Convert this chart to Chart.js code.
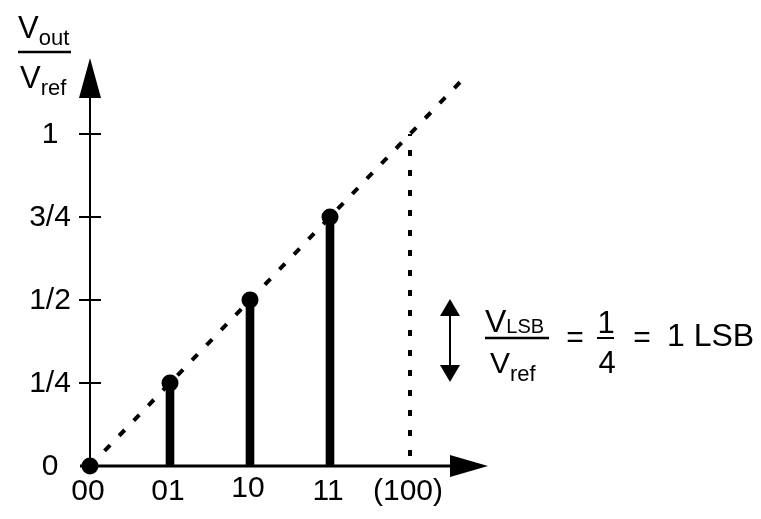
<!DOCTYPE html>
<html lang="en">
<head>
    <meta charset="UTF-8">
    <title>DAC transfer characteristic</title>
    <script src="https://cdn.jsdelivr.net/npm/chart.js"></script>
    <style>
        body { margin: 0; background: #fff; }
        #wrap { width: 761px; height: 519px; position: relative; }
    </style>
</head>
<body>
    <div id="wrap"><canvas id="dac"></canvas></div>

    <script>
        // input codes and what the DAC puts out for them
        const codeLabels = ["00", "01", "10", "11", "(100)"];
        const codeValues = [0, 1, 2, 3, 4];
        const outputLevels = [0, 0.25, 0.5, 0.75];

        // y axis ticks
        const yTickValues = [0, 0.25, 0.5, 0.75, 1];
        const yTickLabels = ["0", "1/4", "1/2", "3/4", "1"];

        // ideal (dotted) line and the full scale marker
        const idealLineX = [0, 4.65];
        const idealLineY = [0, 1.1625];
        const fullScaleX = [4, 4];
        const fullScaleY = [1, 0];

        const FONT = "Liberation Sans, Arial, Helvetica, sans-serif";

        const stems = outputLevels.map((v, i) => ({ x: codeValues[i], y: v }));
        const ideal = idealLineX.map((x, i) => ({ x: x, y: idealLineY[i] }));
        const fullScale = fullScaleX.map((x, i) => ({ x: x, y: fullScaleY[i] }));

        function arrowHead(ctx, tipX, tipY, dir, len, half) {
            ctx.beginPath();
            if (dir === "up") {
                ctx.moveTo(tipX, tipY);
                ctx.lineTo(tipX - half, tipY + len);
                ctx.lineTo(tipX + half, tipY + len);
            } else if (dir === "down") {
                ctx.moveTo(tipX, tipY);
                ctx.lineTo(tipX - half, tipY - len);
                ctx.lineTo(tipX + half, tipY - len);
            } else {
                ctx.moveTo(tipX, tipY);
                ctx.lineTo(tipX - len, tipY - half);
                ctx.lineTo(tipX - len, tipY + half);
            }
            ctx.closePath();
            ctx.fill();
        }

        // V with a subscript, left edge at x, baseline at y
        function vSub(ctx, x, y, sub, big, small, drop) {
            ctx.textAlign = "left";
            ctx.textBaseline = "alphabetic";
            ctx.font = big + "px " + FONT;
            ctx.fillText("V", x, y);
            const w = ctx.measureText("V").width;
            ctx.font = small + "px " + FONT;
            ctx.fillText(sub, x + w, y + drop);
        }

        const axesPlugin = {
            id: "axes",
            beforeDatasetsDraw(chart) {
                const ctx = chart.ctx;
                const xs = chart.scales.x, ys = chart.scales.y;
                const x0 = xs.getPixelForValue(0), y0 = ys.getPixelForValue(0);
                const area = chart.chartArea;
                ctx.save();
                ctx.strokeStyle = "#000";
                ctx.fillStyle = "#000";

                // y axis with arrow
                ctx.lineWidth = 2;
                ctx.beginPath();
                ctx.moveTo(x0, y0);
                ctx.lineTo(x0, area.top + 38);
                ctx.stroke();
                arrowHead(ctx, x0, area.top, "up", 40, 11);

                // x axis with arrow
                ctx.lineWidth = 3;
                ctx.beginPath();
                ctx.moveTo(x0 - 10, y0);
                ctx.lineTo(area.right - 36, y0);
                ctx.stroke();
                arrowHead(ctx, area.right - 2, y0, "right", 38, 11);

                // y ticks crossing the axis
                ctx.lineWidth = 2;
                yTickValues.forEach(v => {
                    if (v === 0) return;
                    const py = ys.getPixelForValue(v);
                    ctx.beginPath();
                    ctx.moveTo(x0 - 11, py);
                    ctx.lineTo(x0 + 11, py);
                    ctx.stroke();
                });
                ctx.restore();
            },
            afterDraw(chart) {
                const ctx = chart.ctx;
                const xs = chart.scales.x, ys = chart.scales.y;
                ctx.save();
                ctx.fillStyle = "#000";
                ctx.strokeStyle = "#000";

                // tick labels
                ctx.font = "30px " + FONT;
                ctx.textAlign = "center";
                ctx.textBaseline = "middle";
                yTickValues.forEach((v, i) => {
                    ctx.fillText(yTickLabels[i], 50, ys.getPixelForValue(v) + 1);
                });
                codeValues.forEach((v, i) => {
                    let dy = (codeLabels[i] === "10") ? -3 : 0;
                    ctx.fillText(codeLabels[i], xs.getPixelForValue(v) - 2, 492 + dy);
                });

                // y axis title: Vout / Vref
                vSub(ctx, 18, 38, "out", 31, 22, 7);
                ctx.lineWidth = 2.5;
                ctx.beginPath();
                ctx.moveTo(18, 52);
                ctx.lineTo(71, 52);
                ctx.stroke();
                vSub(ctx, 20, 88, "ref", 31, 22, 7);

                // 1 LSB annotation
                const ax = 450;
                ctx.lineWidth = 2;
                ctx.beginPath();
                ctx.moveTo(ax, 312);
                ctx.lineTo(ax, 368);
                ctx.stroke();
                arrowHead(ctx, ax, 299, "up", 17, 10);
                arrowHead(ctx, ax, 382, "down", 17, 10);

                vSub(ctx, 485, 332, "LSB", 32, 20, 1);
                ctx.lineWidth = 2.5;
                ctx.beginPath();
                ctx.moveTo(485, 338);
                ctx.lineTo(549, 338);
                ctx.stroke();
                vSub(ctx, 490, 373, "ref", 30, 22, 8);

                ctx.font = "30px " + FONT;
                ctx.textAlign = "center";
                ctx.textBaseline = "middle";
                ctx.fillText("=", 575, 339);
                ctx.fillText("=", 642, 339);
                ctx.textBaseline = "alphabetic";
                ctx.font = "31px " + FONT;
                ctx.fillText("1", 606, 333);
                ctx.fillText("4", 607, 373);
                ctx.lineWidth = 2;
                ctx.beginPath();
                ctx.moveTo(597, 338);
                ctx.lineTo(614, 338);
                ctx.stroke();

                ctx.textAlign = "left";
                ctx.font = "32px " + FONT;
                ctx.fillText("1 LSB", 667, 346);
                ctx.restore();
            }
        };

        new Chart(document.getElementById("dac"), {
            type: "bar",
            data: {
                datasets: [
                    {
                        type: "line",
                        data: ideal,
                        borderColor: "#000",
                        borderWidth: 4,
                        borderDash: [8, 13],
                        pointRadius: 0,
                        fill: false,
                        clip: false,
                        order: 3
                    },
                    {
                        type: "line",
                        data: fullScale,
                        borderColor: "#000",
                        borderWidth: 4,
                        borderDash: [6, 14],
                        borderDashOffset: -16,
                        pointRadius: 0,
                        fill: false,
                        clip: false,
                        order: 3
                    },
                    {
                        type: "bar",
                        data: stems,
                        backgroundColor: "#000",
                        barThickness: 8,
                        clip: false,
                        order: 2
                    },
                    {
                        type: "line",
                        data: stems,
                        showLine: false,
                        pointRadius: 8.5,
                        pointBackgroundColor: "#000",
                        pointBorderWidth: 0,
                        clip: false,
                        order: 1
                    }
                ]
            },
            options: {
                responsive: true,
                maintainAspectRatio: false,
                animation: false,
                layout: { padding: { left: 90, right: 271, top: 58, bottom: 53 } },
                plugins: { legend: { display: false }, tooltip: { enabled: false } },
                scales: {
                    x: { type: "linear", min: 0, max: 5, offset: false, display: false },
                    y: { type: "linear", min: 0, max: 1.229, display: false }
                }
            },
            plugins: [axesPlugin]
        });
    </script>
</body>
</html>
